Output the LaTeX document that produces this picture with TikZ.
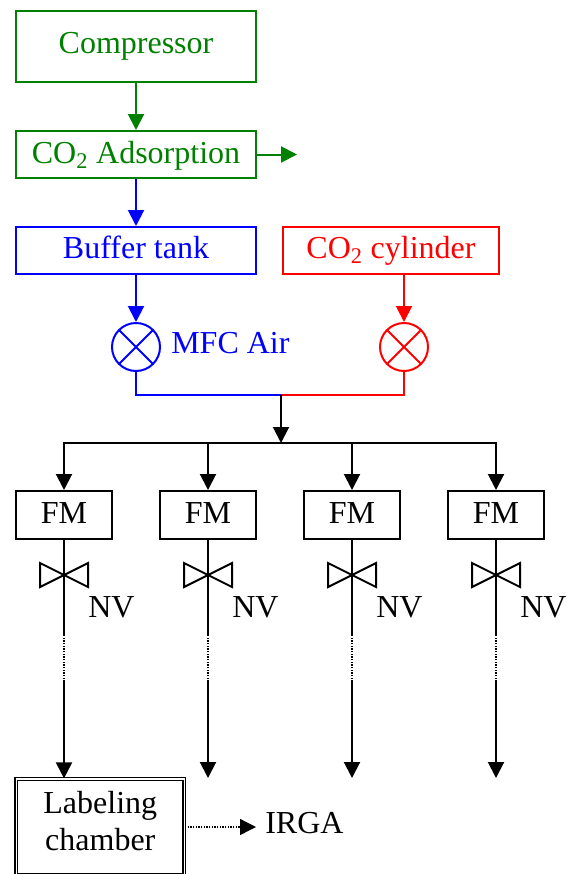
\documentclass[tikz,border=0pt]{standalone}
\usepackage{fontspec}
\setmainfont{Liberation Serif}
\usetikzlibrary{arrows.meta}
\definecolor{cgreen}{RGB}{0,128,0}
\tikzset{
  flow/.style={-{Triangle[length=12pt,width=12pt]},line width=1.5pt},
  pipe/.style={line width=1.5pt},
  dotline/.style={dash pattern=on 1pt off 1pt},
  unit/.style={draw=#1,text=#1,rectangle,inner sep=0pt,line width=1.5pt,align=center},
  mfc/.style={draw=#1,circle,inner sep=0pt,minimum size=36pt,line width=1.5pt,
    path picture={\draw[#1,line width=1.5pt]
      (path picture bounding box.north west)--(path picture bounding box.south east)
      (path picture bounding box.north east)--(path picture bounding box.south west);}},
  lbl/.style={inner sep=0pt,anchor=base west},
}
\begin{document}
\begin{tikzpicture}[x=0.75pt,y=-0.75pt,font=\fontsize{24}{27.75}\selectfont]
  \useasboundingbox (0,0) rectangle (567,874);
  % air line
  \node[unit=cgreen,minimum width=180pt,text height=31.85pt,text depth=21.4pt] (comp) at (136,46.5) {Compressor};
  \node[unit=cgreen,minimum width=180pt,text height=24.35pt,text depth=10.9pt] (adsorb) at (136,154.5) {CO\textsubscript{2} Adsorption};
  \node[unit=blue,minimum width=180pt,text height=23.6pt,text depth=11.65pt] (buffer) at (136,250.5) {Buffer tank};
  \node[mfc=blue] (mfcair) at (136,347) {};
  \node[lbl,text=blue] (mfclbl) at (171,353.5) {MFC Air};
  \coordinate (vent) at (297,154.5);
  \draw[flow,cgreen] (comp) -- (adsorb);
  \draw[flow,cgreen] (adsorb.east) -- (vent);
  \draw[flow,blue] (adsorb) -- (buffer);
  \draw[flow,blue] (buffer) -- (mfcair);
  % CO2 line
  \node[unit=red,minimum width=162pt,text height=23.6pt,text depth=11.65pt] (cyl) at (391,250.5) {CO\textsubscript{2} cylinder};
  \node[mfc=red] (mfcco) at (404,347) {};
  \draw[flow,red] (cyl.south -| mfcco) -- (mfcco);
  % mixing
  \coordinate (mix) at (281,395);
  \coordinate (bus) at (281,443);
  \draw[pipe,red] (mfcco) -- (404,395) -- (mix);
  \draw[pipe,blue] (mfcair) -- (136,395) -- (mix);
  \draw[flow] (mix) -- (bus);
  \draw[pipe,line cap=rect] (64,443) -- (496,443);
  % chamber and analyser
  \node[unit=black,double,double distance=1.2pt,line width=0.9pt,minimum width=126pt,minimum height=72pt,text depth=9.6pt] (chamber) at (100.3,827) {Labeling\\chamber};
  \node[lbl] (irga) at (265,833.5) {IRGA};
  \coordinate (irgaend) at (256,827);
  \draw[flow,dotline,line width=1pt] (chamber.east) -- (irgaend);
  % four branches
  \foreach \i/\x in {1/64,2/208,3/352,4/496}{
    \node[unit=black,minimum width=72pt,text height=24.1pt,text depth=11.9pt] (fm\i) at (\x,515) {FM};
    \node[lbl] (nv\i) at (\x+24,617) {NV};
    \coordinate (dota\i) at (\x,635);
    \coordinate (dotb\i) at (\x,682);
    \coordinate (end\i) at (\x,778);
    \draw[flow] (\x,443) -- (fm\i);
    \draw[pipe] (fm\i) -- (dota\i);
    \draw[pipe,dotline] (dota\i) -- (dotb\i);
    \draw[pipe,line join=miter] (\x,575) -- (\x-24,563) -- (\x-24,587) -- (\x+24,563) -- (\x+24,587) -- cycle;
  }
  \foreach \i in {2,3,4}{\draw[flow] (dotb\i) -- (end\i);}
  \draw[flow] (dotb1) -- (chamber.north -| dotb1);
\end{tikzpicture}
\end{document}
